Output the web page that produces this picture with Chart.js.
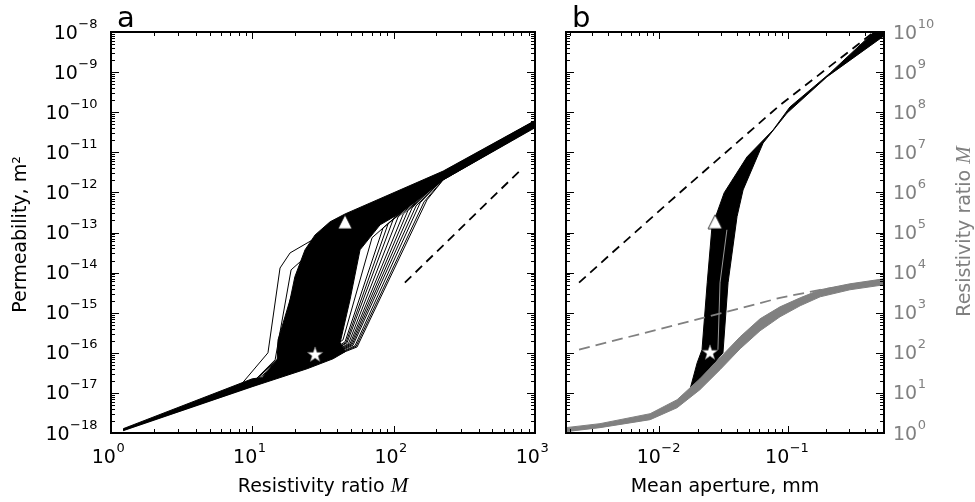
<!DOCTYPE html>
<html>
<head>
<meta charset="utf-8">
<script src="https://cdn.jsdelivr.net/npm/chart.js@4.4.0/dist/chart.umd.min.js"></script>
<style>
  html, body { margin: 0; padding: 0; background: #fff; }
  #wrap { position: relative; width: 975px; height: 502px; }
  canvas { position: absolute; top: 0; }
  #chartA { left: 0; }
  #chartB { left: 550px; }
</style>
</head>
<body>
<div id="wrap">
  <canvas id="chartA" width="550" height="502"></canvas>
  <canvas id="chartB" width="425" height="502"></canvas>
</div>
<script>
// ---- axis limits ----
const xLimA = [1, 1000];          // resistivity ratio M
const yLimK = [1e-18, 1e-8];      // permeability, m^2
const xLimB = [0.001875, 0.5623]; // mean aperture, mm
const yLimM = [1, 1e10];          // resistivity ratio M (right axis of b)

// ---- panel a: permeability vs resistivity ratio ----
// dense core of the ensemble (outline, [M, k])
const coreA = [[1.22,1.14e-18],[10,1.43e-17],[24.4,4.0e-17],[37.3,7.1e-17],[45.3,1.06e-16],[41.8,1.78e-16],
  [49.1,2.1e-15],[57.8,3.7e-14],[80.1,1.55e-13],[106,2.75e-13],[154,7.3e-13],[224,2.05e-12],[1000,4.1e-11],
  [1000,6.2e-11],[224,3.4e-12],[45.3,2.9e-13],[35.5,1.85e-13],[27.8,8.7e-14],[23.6,3.7e-14],[20.0,7.9e-15],
  [18.5,2.1e-15],[15.2,2.1e-16],[15.0,6.7e-17],[11.7,2.4e-17],[10,2.25e-17],[1.22,1.28e-18]];
// curves on the left side of the ensemble
const fanL1 = [[1.22,1.21e-18],[8.18,1.5e-17],[12.9,1.0e-16],[15.7,1.3e-14],[18.5,3.1e-14],[41.8,1.64e-13],[224,3.2e-12],[1000,6.1e-11]];
const fanL2 = [[1.22,1.21e-18],[10,1.8e-17],[14.5,6.7e-17],[18.8,1.17e-14],[21.8,1.86e-14],[45.3,2.3e-13],[224,2.9e-12],[1000,5.9e-11]];
const fanL3 = [[1.22,1.21e-18],[10,1.8e-17],[16.2,8.9e-17],[20.0,5.0e-15],[25.6,3.7e-14],[45.3,2.1e-13],[224,2.7e-12],[1000,5.6e-11]];
const fanL4 = [[1.22,1.21e-18],[10,1.8e-17],[15.7,7.5e-17],[18.5,2.1e-15],[21.8,1.17e-14],[30.1,4.9e-14],[45.3,1.95e-13],[224,2.7e-12],[1000,5.6e-11]];
const fanL5 = [[1.22,1.21e-18],[10,1.7e-17],[17.0,8e-17],[19.4,1.18e-15],[23.6,1.86e-14],[35.5,1.04e-13],[45.3,2.19e-13],[224,2.6e-12],[1000,5.5e-11]];
// curves on the right side of the ensemble
const fanR1 = [[1.22,1.21e-18],[10,1.5e-17],[30.1,6e-17],[55.1,1.4e-16],[172,6.5e-13],[224,2.05e-12],[1000,4.3e-11]];
const fanR2 = [[1.22,1.21e-18],[10,1.5e-17],[30.1,6e-17],[53.3,1.5e-16],[154,5.5e-13],[224,2.2e-12],[1000,4.4e-11]];
const fanR3 = [[1.22,1.21e-18],[10,1.5e-17],[28,5.5e-17],[50.8,1.6e-16],[135,4.1e-13],[224,2.3e-12],[1000,4.5e-11]];
const fanR4 = [[1.22,1.21e-18],[10,1.5e-17],[27,5.3e-17],[49.1,1.68e-16],[117,2.9e-13],[224,2.4e-12],[1000,4.7e-11]];
const fanR5 = [[1.22,1.21e-18],[10,1.5e-17],[26,5.1e-17],[46.8,1.78e-16],[99,2.07e-13],[224,2.5e-12],[1000,4.9e-11]];
const fanR6 = [[1.22,1.21e-18],[10,1.5e-17],[25,5e-17],[45.3,1.88e-16],[84.1,1.3e-13],[224,2.6e-12],[1000,5.1e-11]];
const fanR7 = [[1.22,1.21e-18],[10,1.5e-17],[24,4.8e-17],[43.8,2.1e-16],[70.3,7.4e-14],[224,2.7e-12],[1000,5.3e-11]];
const fanR8 = [[1.22,1.21e-18],[10,1.5e-17],[30,6e-17],[54.2,1.45e-16],[164,5.8e-13],[224,2.1e-12],[1000,4.4e-11]];
const fanR9 = [[1.22,1.21e-18],[10,1.5e-17],[29,5.8e-17],[51.6,1.55e-16],[144,4.6e-13],[224,2.2e-12],[1000,4.5e-11]];
const fanR10 = [[1.22,1.21e-18],[10,1.5e-17],[28,5.5e-17],[50,1.65e-16],[126,3.5e-13],[224,2.3e-12],[1000,4.6e-11]];
const fanR11 = [[1.22,1.21e-18],[10,1.5e-17],[27,5.3e-17],[47.9,1.7e-16],[107.5,2.45e-13],[224,2.4e-12],[1000,4.8e-11]];
const fanR12 = [[1.22,1.21e-18],[10,1.5e-17],[26,5.1e-17],[46,1.8e-16],[91.3,1.64e-13],[224,2.5e-12],[1000,5e-11]];
const dashA = [[120,5.6e-15],[820,4.1e-12]];
const triA = [[45.3,1.85e-13]];
const starA = [[27.8,8.9e-17]];

// ---- panel b: permeability / resistivity ratio vs mean aperture ----
const coreB = [[0.00187,1.21e-18],[0.00345,1.52e-18],[0.00848,2.7e-18],[0.01375,6.0e-18],[0.0173,1.2e-17],
  [0.0197,5.6e-17],[0.0215,1.19e-16],[0.0236,5.6e-15],[0.0257,1.38e-13],[0.0320,9.8e-13],[0.0482,7.7e-12],
  [0.0769,3.6e-11],[0.104,1.35e-10],[0.214,9.5e-10],[0.462,9.5e-9],[0.6,1.5e-8],
  [0.6,1.1e-8],[0.562,8.0e-9],[0.202,7.6e-10],[0.0988,9.5e-11],[0.0643,1.7e-11],[0.0449,1.15e-12],
  [0.0403,2.5e-13],[0.0343,5.6e-15],[0.0313,1.0e-16],[0.0197,1.8e-17],[0.01375,5.4e-18],[0.00848,2.4e-18],
  [0.00345,1.44e-18],[0.00187,1.14e-18]];
const gapB = [[0.0286,1.19e-16],[0.0297,5.6e-15],[0.0336,1.17e-13]];
const dashB = [[0.00237,5.6e-15],[0.00428,3.1e-14],[0.0144,9.8e-13],[0.0869,1.5e-10],[0.461,9.5e-9],[0.48,1.0e-8]];
// gray band of M curves: upper edge then lower edge
const bandM = [[0.00187,1.36],[0.00345,1.71],[0.00848,3.03],[0.01375,6.76],[0.0207,22.5],[0.0297,75],[0.0426,251],
  [0.0609,705],[0.0871,1400],[0.125,2350],[0.179,3730],[0.305,5250],[0.562,7000],
  [0.562,4960],[0.305,3730],[0.179,2490],[0.125,1490],[0.0871,791],[0.0609,354],[0.0426,126],[0.0297,37.8],
  [0.0207,12.0],[0.01375,4.27],[0.00848,2.15],[0.00345,1.36],[0.00187,1.08]];
const dashM = [[0.00237,120],[0.0144,525],[0.0869,2340],[0.179,3720],[0.562,6300]];
const triB = [[0.0272,1.86e-13]];
const starB = [[0.0248,1.0e-16]];

const GRAY = '#808080';
const F_MAIN = '19px "DejaVu Sans"';
const F_SUP = '13px "DejaVu Sans"';
const F_TITLE = '19px "DejaVu Sans"';
const F_MATH = 'italic 21px "Liberation Serif"';
const F_LETTER = '29px "DejaVu Sans"';

// marker images
function makeStar(r) {
  const c = document.createElement('canvas');
  const s = Math.ceil(r * 2 + 2);
  c.width = c.height = s;
  const g = c.getContext('2d');
  g.translate(s / 2, s / 2);
  g.beginPath();
  for (let i = 0; i < 10; i++) {
    const rr = i % 2 ? r * 0.4 : r;
    const an = -Math.PI / 2 + i * Math.PI / 5;
    g.lineTo(rr * Math.cos(an), rr * Math.sin(an));
  }
  g.closePath();
  g.fillStyle = '#fff'; g.fill();
  g.strokeStyle = '#777'; g.lineWidth = 0.6; g.stroke();
  return c;
}
function makeTri(w) {
  const c = document.createElement('canvas');
  const s = w + 2;
  c.width = c.height = s;
  const g = c.getContext('2d');
  g.beginPath();
  g.moveTo(s / 2, 1); g.lineTo(s - 1, s - 1); g.lineTo(1, s - 1); g.closePath();
  g.fillStyle = '#fff'; g.fill();
  g.strokeStyle = '#000'; g.lineWidth = 0.8; g.stroke();
  return c;
}
const starImg = makeStar(8);
const triImg = makeTri(14);

// log ticks (major at decades, minor at 2..9)
function logTicks(scale) {
  const out = [];
  const lo = Math.floor(Math.log10(scale.min) + 1e-9), hi = Math.ceil(Math.log10(scale.max) - 1e-9);
  for (let e = lo; e <= hi; e++) {
    for (let m = 1; m <= 9; m++) {
      const v = m * Math.pow(10, e);
      if (v < scale.min * 0.99999 || v > scale.max * 1.00001) continue;
      out.push({ e, major: m === 1, px: scale.getPixelForValue(v) });
    }
  }
  return out;
}

function seg(ctx, x1, y1, x2, y2) {
  ctx.beginPath(); ctx.moveTo(x1, y1); ctx.lineTo(x2, y2); ctx.stroke();
}

function sciLabel(ctx, x, y, exp, align, color) {
  const sup = String(exp).replace('-', '\u2212');
  ctx.font = F_MAIN; const w1 = ctx.measureText('10').width;
  ctx.font = F_SUP; const w2 = ctx.measureText(sup).width;
  let x0 = x;
  if (align === 'right') x0 = x - w1 - w2;
  if (align === 'center') x0 = x - (w1 + w2) / 2;
  ctx.fillStyle = color;
  ctx.textAlign = 'left'; ctx.textBaseline = 'alphabetic';
  ctx.font = F_MAIN; ctx.fillText('10', x0, y);
  ctx.font = F_SUP; ctx.fillText(sup, x0 + w1 + 0.5, y - 11);
}

function title(ctx, x, y, parts, rotated, color) {
  let total = 0;
  for (const p of parts) { ctx.font = p[1]; total += ctx.measureText(p[0]).width; }
  ctx.save();
  ctx.translate(x, y);
  if (rotated) ctx.rotate(-Math.PI / 2);
  ctx.fillStyle = color; ctx.textAlign = 'left'; ctx.textBaseline = 'alphabetic';
  let cx = -total / 2;
  for (const p of parts) { ctx.font = p[1]; ctx.fillText(p[0], cx, 0); cx += ctx.measureText(p[0]).width; }
  ctx.restore();
}

// matplotlib-like frame: inside ticks on every side, labels with superscripts
const mplAxes = {
  id: 'mplAxes',
  afterDraw(chart, args, o) {
    const ctx = chart.ctx, a = chart.chartArea, sx = chart.scales.x;
    const sl = chart.scales[o.left], sr = chart.scales[o.right];
    ctx.save();
    ctx.strokeStyle = '#000'; ctx.lineWidth = 1;
    for (const t of logTicks(sx)) {
      const L = t.major ? 7 : 4, p = Math.round(t.px) + 0.5;
      seg(ctx, p, a.bottom, p, a.bottom - L);
      seg(ctx, p, a.top, p, a.top + L);
    }
    for (const t of logTicks(sl)) {
      const L = t.major ? 8 : 4, p = Math.round(t.px) + 0.5;
      seg(ctx, a.left, p, a.left + L, p);
    }
    for (const t of logTicks(sr)) {
      const L = t.major ? 8 : 4, p = Math.round(t.px) + 0.5;
      seg(ctx, a.right, p, a.right - L, p);
    }
    ctx.lineWidth = 2;
    ctx.strokeRect(a.left, a.top, a.right - a.left, a.bottom - a.top);

    for (const t of logTicks(sx)) if (t.major) sciLabel(ctx, t.px + o.xShift, a.bottom + 30, t.e, 'center', '#000');
    if (o.labelLeft) for (const t of logTicks(sl)) if (t.major) sciLabel(ctx, a.left - 14, t.px + 6.5, t.e, 'right', '#000');
    if (o.labelRight) for (const t of logTicks(sr)) if (t.major) sciLabel(ctx, a.right + 9, t.px + 6.5, t.e, 'left', GRAY);

    const cx = (a.left + a.right) / 2, cy = (a.top + a.bottom) / 2;
    title(ctx, cx, a.bottom + 59, o.xTitle, false, '#000');
    if (o.leftTitle) title(ctx, a.left - 85.5, cy + 2, o.leftTitle, true, '#000');
    if (o.rightTitle) title(ctx, a.right + 86, cy - 1, o.rightTitle, true, GRAY);

    ctx.fillStyle = '#000'; ctx.font = F_LETTER; ctx.textAlign = 'left';
    ctx.fillText(o.letter, a.left + 6, 27);
    ctx.restore();
  }
};

function lineSet(data, color, width, order, extra) {
  return Object.assign({ data, showLine: true, borderColor: color, borderWidth: width, pointRadius: 0,
    fill: false, tension: 0, order }, extra || {});
}
function markSet(data, img, extra) {
  return Object.assign({ data, showLine: false, pointStyle: img, pointRadius: 8, order: 0 }, extra || {});
}
function logAxis(lim, extra) {
  return Object.assign({ type: 'logarithmic', min: lim[0], max: lim[1], display: false, bounds: 'data' }, extra || {});
}

const fansA = [fanL1, fanL2, fanL3, fanL4, fanL5, fanR1, fanR2, fanR3, fanR4, fanR5, fanR6, fanR7,
  fanR8, fanR9, fanR10, fanR11, fanR12];

new Chart(document.getElementById('chartA'), {
  type: 'scatter',
  data: {
    datasets: [
      markSet(triA, triImg),
      markSet(starA, starImg),
      lineSet(dashA, '#000', 1.8, 1, { borderDash: [9, 6] }),
      ...fansA.map(d => lineSet(d, '#000', 1, 2)),
      lineSet(coreA, '#000', 1, 3, { fill: 'shape', backgroundColor: '#000' })
    ]
  },
  options: {
    responsive: false, animation: false, events: [],
    layout: { padding: { left: 111, top: 32, right: 15, bottom: 69 } },
    plugins: {
      legend: { display: false }, tooltip: { enabled: false },
      mplAxes: {
        letter: 'a', left: 'y', right: 'y', labelLeft: true, labelRight: false, xShift: -3,
        xTitle: [['Resistivity ratio ', F_TITLE], ['M', F_MATH]],
        leftTitle: [['Permeability, m\u00b2', F_TITLE]]
      }
    },
    scales: { x: logAxis(xLimA), y: logAxis(yLimK) }
  },
  plugins: [mplAxes]
});

new Chart(document.getElementById('chartB'), {
  type: 'scatter',
  data: {
    datasets: [
      markSet(triB, triImg),
      markSet(starB, starImg),
      lineSet(dashM, GRAY, 1.8, 1, { borderDash: [11, 6], yAxisID: 'y2' }),
      lineSet(dashB, '#000', 1.8, 1, { borderDash: [9, 6] }),
      lineSet(bandM, GRAY, 1, 2, { yAxisID: 'y2', fill: 'shape', backgroundColor: GRAY }),
      lineSet(gapB, '#fff', 0.6, 3),
      lineSet(coreB, '#000', 1, 4, { fill: 'shape', backgroundColor: '#000' })
    ]
  },
  options: {
    responsive: false, animation: false, events: [],
    layout: { padding: { left: 16, top: 32, right: 91, bottom: 69 } },
    plugins: {
      legend: { display: false }, tooltip: { enabled: false },
      mplAxes: {
        letter: 'b', left: 'y', right: 'y2', labelLeft: false, labelRight: true, xShift: -1,
        xTitle: [['Mean aperture, mm', F_TITLE]],
        rightTitle: [['Resistivity ratio ', F_TITLE], ['M', F_MATH]]
      }
    },
    scales: { x: logAxis(xLimB), y: logAxis(yLimK), y2: logAxis(yLimM, { position: 'right' }) }
  },
  plugins: [mplAxes]
});
</script>
</body>
</html>
